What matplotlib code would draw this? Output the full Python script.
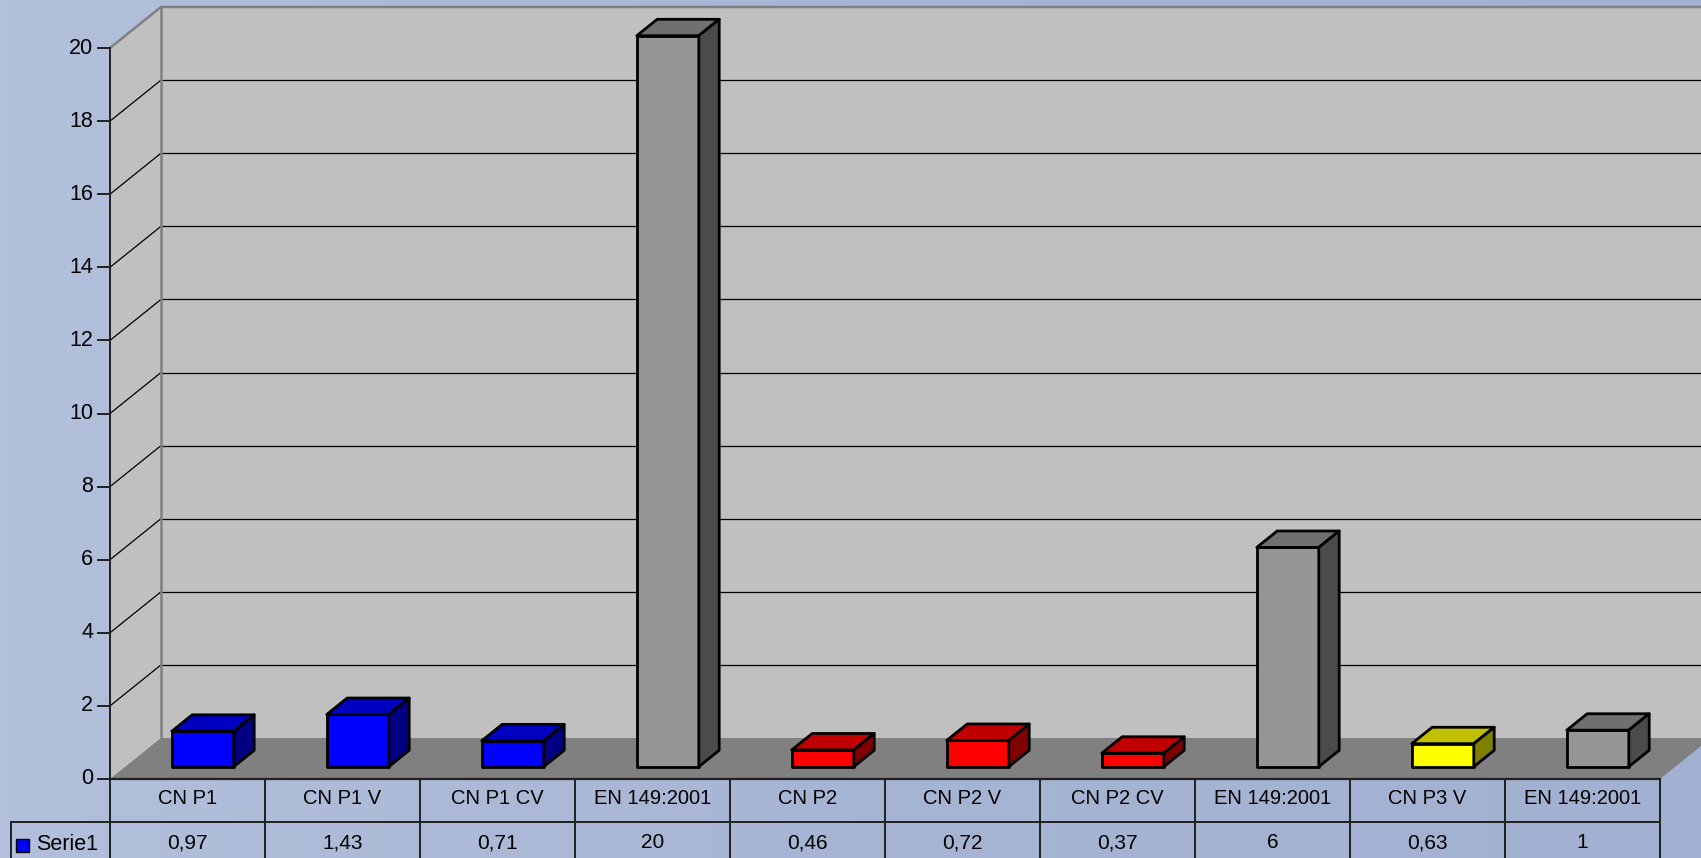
import numpy as np
import matplotlib
matplotlib.use("Agg")
import matplotlib.pyplot as plt
from matplotlib.patches import Polygon, Rectangle
from matplotlib.colors import LinearSegmentedColormap

# ---------------- data ----------------
categories = ["CN P1", "CN P1 V", "CN P1 CV", "EN 149:2001", "CN P2",
              "CN P2 V", "CN P2 CV", "EN 149:2001", "CN P3 V", "EN 149:2001"]
values = [0.97, 1.43, 0.71, 20, 0.46, 0.72, 0.37, 6, 0.63, 1]
value_labels = ["0,97", "1,43", "0,71", "20", "0,46", "0,72", "0,37", "6", "0,63", "1"]
series_name = "Serie1"
yticks = [0, 2, 4, 6, 8, 10, 12, 14, 16, 18, 20]

# bar colour sets: (front, top, side)
BLUE = ("#0000ff", "#0000c0", "#000080")
GRAY = ("#969696", "#707070", "#4b4b4b")
RED = ("#ff0000", "#c00000", "#800000")
YELLOW = ("#ffff00", "#c0c000", "#808000")
bar_colors = [BLUE, BLUE, BLUE, GRAY, RED, RED, RED, GRAY, YELLOW, GRAY]

plt.rcParams['font.family'] = ['Liberation Sans', 'DejaVu Sans']

W, H = 1701, 858
fig = plt.figure(figsize=(W / 100, H / 100), dpi=100)
ax = fig.add_axes([0, 0, 1, 1])

# ---------------- layout (pixel based) ----------------
COL_PX = 155.0          # width of a category column
X0_PX = 110.0           # pixel x of category boundary -0.5
Y0_PX = 779.0           # pixel y (from top) of value 0 (front)
PPU = (779.0 - 48.0) / 20.0   # pixels per value unit
DX = 51.0 / COL_PX      # depth offset in x (data units)
DY = 41.0 / PPU         # depth offset in y (data units)

xmin = -0.5 - X0_PX / COL_PX
xmax = -0.5 + (W - X0_PX) / COL_PX
ymin = -(H - Y0_PX) / PPU
ymax = Y0_PX / PPU
ax.set_xlim(xmin, xmax)
ax.set_ylim(ymin, ymax)
ax.axis('off')

def px_x(p):
    return p / COL_PX

def px_y(p):
    return p / PPU

# background gradient
cmap = LinearSegmentedColormap.from_list("bg", ["#b3c0db", "#a7b5d4", "#a2b1d1"])
grad = np.linspace(0, 1, 256).reshape(1, -1)
ax.imshow(grad, extent=[xmin, xmax, ymin, ymax], aspect='auto', cmap=cmap,
          zorder=0, interpolation='bicubic')

n = len(categories)
xl, xr = -0.5, n - 0.5
vmax = yticks[-1]

# side wall
ax.add_patch(Polygon([(xl, 0), (xl, vmax), (xl + DX, vmax + DY), (xl + DX, DY)],
                     closed=True, facecolor="#c0c0c0", edgecolor='none', zorder=1))
# back wall
ax.add_patch(Polygon([(xl + DX, DY), (xl + DX, vmax + DY), (xr + DX, vmax + DY), (xr + DX, DY)],
                     closed=True, facecolor="#c0c0c0", edgecolor='none', zorder=1))
# floor
ax.add_patch(Polygon([(xl, 0), (xr, 0), (xr + DX, DY), (xl + DX, DY)],
                     closed=True, facecolor="#808080", edgecolor='none', zorder=1))

# gridlines
for v in yticks[1:-1]:
    ax.plot([xl, xl + DX], [v, v + DY], color='black', lw=0.9, zorder=2,
            solid_capstyle='butt')
    ax.plot([xl + DX, xr + DX], [v + DY, v + DY], color='black', lw=0.9, zorder=2,
            solid_capstyle='butt')

# wall borders (gray)
ax.plot([xl, xl + DX, xr + DX], [vmax, vmax + DY, vmax + DY], color="#808080", lw=1.8, zorder=2)
ax.plot([xl + DX, xl + DX], [DY, vmax + DY], color="#808080", lw=1.8, zorder=2)

# bars
w = 0.2
f0, f1 = 0.3, 0.7
for i, (v, cols) in enumerate(zip(values, bar_colors)):
    front, top, side = cols
    x1 = i - w + f0 * DX
    x2 = i + w + f0 * DX
    yb = f0 * DY
    yt = v + f0 * DY
    ddx = (f1 - f0) * DX
    ddy = (f1 - f0) * DY
    kw = dict(closed=True, edgecolor='black', lw=2.0, joinstyle='round', zorder=3)
    ax.add_patch(Polygon([(x1, yb), (x2, yb), (x2, yt), (x1, yt)], facecolor=front, **kw))
    ax.add_patch(Polygon([(x1, yt), (x2, yt), (x2 + ddx, yt + ddy), (x1 + ddx, yt + ddy)],
                         facecolor=top, **kw))
    ax.add_patch(Polygon([(x2, yb), (x2, yt), (x2 + ddx, yt + ddy), (x2 + ddx, yb + ddy)],
                         facecolor=side, **kw))

# value axis line + ticks
ax.plot([xl, xl], [0, vmax], color="#202020", lw=1.4, zorder=4)
for t in yticks:
    ax.plot([xl - px_x(12), xl], [t, t], color="#202020", lw=1.4, zorder=4)
    ax.text(xl - px_x(17), t, str(t), ha='right', va='center', fontsize=15.5,
            color='black', zorder=4)

# ---------------- data table ----------------
row1 = -px_y(43)
ybot = ymin
hdr_left = -0.5 - px_x(99)
lc = "#202020"
ax.plot([xl, xr], [0, 0], color=lc, lw=1.6, zorder=4)
ax.plot([hdr_left, xr], [row1, row1], color=lc, lw=1.4, zorder=4)
for k in range(n + 1):
    ax.plot([xl + k, xl + k], [0, ybot], color=lc, lw=1.4, zorder=4)
ax.plot([hdr_left, hdr_left], [row1, ybot], color=lc, lw=1.4, zorder=4)

for i, (c, lab) in enumerate(zip(categories, value_labels)):
    ax.text(i, -px_y(19), c, ha='center', va='center', fontsize=14.5, zorder=5)
    ax.text(i, -px_y(64), lab, ha='center', va='center', fontsize=15, zorder=5)

# legend key in table header
ax.add_patch(Rectangle((-0.5 - px_x(94), -px_y(73)), px_x(13), px_y(13),
                       facecolor=BLUE[0], edgecolor='black', lw=1.0, zorder=5))
ax.text(-0.5 - px_x(74), -px_y(65), series_name, ha='left', va='center',
        fontsize=15.5, zorder=5)

fig.savefig("out.png", dpi=100)
